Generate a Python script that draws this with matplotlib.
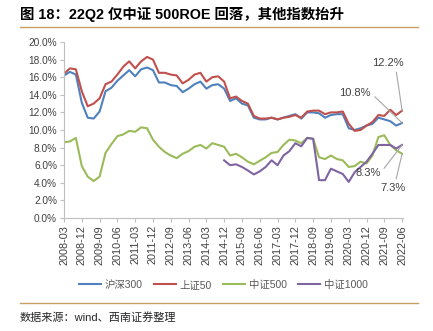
import matplotlib
matplotlib.use("Agg")
import matplotlib.pyplot as plt
from matplotlib.lines import Line2D

plt.rcParams["font.family"] = ["Liberation Sans", "Noto Sans CJK SC", "DejaVu Sans"]

# ── Dados (ROE, %) ────────────────────────────────────────────────────────────
rotulos_x = ["2008-03", "2008-12", "2009-09", "2010-06", "2011-03", "2011-12",
             "2012-09", "2013-06", "2014-03", "2014-12", "2015-09", "2016-06",
             "2017-03", "2017-12", "2018-09", "2019-06", "2020-03", "2020-12",
             "2021-09", "2022-06"]

hs300 = [16.2, 16.6, 16.3, 13.1, 11.4, 11.3, 12.1, 14.4, 14.8, 15.6,
         16.2, 16.8, 16.1, 16.9, 17.1, 16.8, 15.4, 15.4, 15.1, 15.0,
         14.3, 14.7, 15.2, 15.5, 14.7, 15.1, 15.2, 14.7, 13.3, 13.6,
         13.0, 12.8, 11.4, 11.2, 11.2, 11.4, 11.2, 11.4, 11.6, 11.8,
         11.3, 12.0, 12.0, 11.9, 11.4, 11.7, 11.8, 11.8, 10.2, 10.0,
         10.2, 10.5, 10.7, 11.4, 11.2, 11.0, 10.5, 10.8]

sz50 = [16.4, 17.0, 16.9, 14.4, 12.7, 13.0, 13.6, 15.2, 15.5, 16.3,
        17.2, 17.8, 17.0, 17.8, 18.3, 18.0, 16.5, 16.5, 16.3, 16.2,
        15.3, 15.7, 16.3, 16.5, 15.5, 16.0, 16.1, 15.5, 13.6, 13.8,
        13.3, 13.0, 11.6, 11.3, 11.3, 11.4, 11.2, 11.4, 11.5, 11.7,
        11.4, 12.1, 12.2, 12.2, 11.8, 12.0, 12.0, 12.1, 10.7, 9.9,
        10.0, 10.5, 10.9, 11.7, 11.6, 12.3, 11.7, 12.2]

zz500 = [8.6, 8.7, 9.1, 5.9, 4.7, 4.2, 4.7, 7.4, 8.4, 9.3,
         9.5, 9.9, 9.8, 10.3, 10.2, 8.9, 8.1, 7.5, 7.1, 6.8,
         7.3, 7.6, 8.1, 8.3, 7.9, 8.5, 8.3, 8.1, 7.1, 7.3,
         6.9, 6.4, 6.1, 6.5, 6.9, 7.4, 7.5, 8.3, 8.9, 8.8,
         8.5, 9.1, 9.0, 6.9, 6.7, 7.1, 6.7, 6.55, 5.8, 5.9,
         6.4, 6.2, 7.1, 9.2, 9.4, 8.3, 7.7, 7.3]

# 中证1000 começa em 2014-12 (índice 27)
zz1000 = [None] * 27 + [
    6.55, 6.0, 6.1, 5.8, 5.4, 4.95, 5.3, 5.8, 6.55, 6.0,
    7.1, 7.6, 8.5, 8.15, 9.1, 9.0, 4.3, 4.3, 5.6, 5.3,
    5.0, 4.1, 5.2, 5.8, 6.4, 7.3, 8.3, 8.3, 8.3, 7.9, 8.3]

series = [
    ("沪深300", hs300, "#4F81BD"),
    ("上证50", sz50, "#C0504D"),
    ("中证500", zz500, "#9BBB59"),
    ("中证1000", zz1000, "#8064A2"),
]

# ── Figura ───────────────────────────────────────────────────────────────────
fig = plt.figure(figsize=(4.33, 3.31), dpi=100)
ax = fig.add_axes([64 / 433, 1 - 218 / 331, (403 - 64) / 433, (218 - 42) / 331])

n = len(hs300)
xs = list(range(n))
for nome, valores, cor in series:
    pts = [(x, v) for x, v in zip(xs, valores) if v is not None]
    ax.plot([p[0] for p in pts], [p[1] for p in pts], color=cor, lw=1.5,
            label=nome, solid_joinstyle="round")

ax.set_xlim(0, n - 1 + 0.15)
ax.set_ylim(0, 20)
ax.set_yticks(range(0, 21, 2))
ax.set_yticklabels([f"{v:.1f}%" for v in range(0, 21, 2)])
ax.set_xticks(range(0, n, 3))
ax.set_xticklabels(rotulos_x, rotation=90)

for s in ["top", "right"]:
    ax.spines[s].set_visible(False)
for s in ["left", "bottom"]:
    ax.spines[s].set_color("#bfbfbf")
    ax.spines[s].set_linewidth(0.8)
ax.tick_params(axis="y", length=3, width=0.8, color="#bfbfbf", labelsize=7.3,
               labelcolor="#404040", pad=2)
ax.tick_params(axis="x", length=3, width=0.8, color="#bfbfbf", labelsize=7.8,
               labelcolor="#404040", pad=2)

# Rótulos finais
cinza = "#a6a6a6"
anot = [
    ("12.2%", n - 1, sz50[-1], 54.6, 17.6, (0.75, 0)),
    ("10.8%", n - 1, hs300[-1], 49.1, 14.2, (1, 0.5)),
    ("8.3%", n - 1, zz1000[-1], 51.2, 5.1, (1, 0.5)),
    ("7.3%", n - 1, zz500[-1], 55.4, 3.4, (0.6, 1)),
]
for txt, x0, y0, xt, yt, rp in anot:
    ax.annotate(txt, xy=(x0, y0), xytext=(xt, yt), ha="center", va="center",
                fontsize=8, color="#404040",
                arrowprops=dict(arrowstyle="-", color=cinza, lw=0.8,
                                relpos=rp, shrinkA=1, shrinkB=0))

ax.legend(loc="center", bbox_to_anchor=(0.47, -0.38), ncol=4,
          frameon=False, fontsize=7.5, handlelength=2.1, columnspacing=1.1,
          handletextpad=0.35, labelcolor="#595959")

# Título e fonte
fig.text(20 / 433, 1 - 14 / 331, "图 18：22Q2 仅中证 500ROE 回落，其他指数抬升",
         fontsize=10.4, fontweight="bold", va="center", ha="left", color="#000000")
cor_linha = "#c9a063"
fig.add_artist(Line2D([20 / 433, 418 / 433], [1 - 27 / 331, 1 - 27 / 331],
                      color=cor_linha, lw=1.0))
fig.add_artist(Line2D([20 / 433, 418 / 433], [1 - 303 / 331, 1 - 303 / 331],
                      color=cor_linha, lw=1.0))
fig.text(20 / 433, 1 - 317 / 331, "数据来源：wind、西南证券整理",
         fontsize=8, va="center", ha="left", color="#262626")

fig.savefig("out.png", dpi=100)
